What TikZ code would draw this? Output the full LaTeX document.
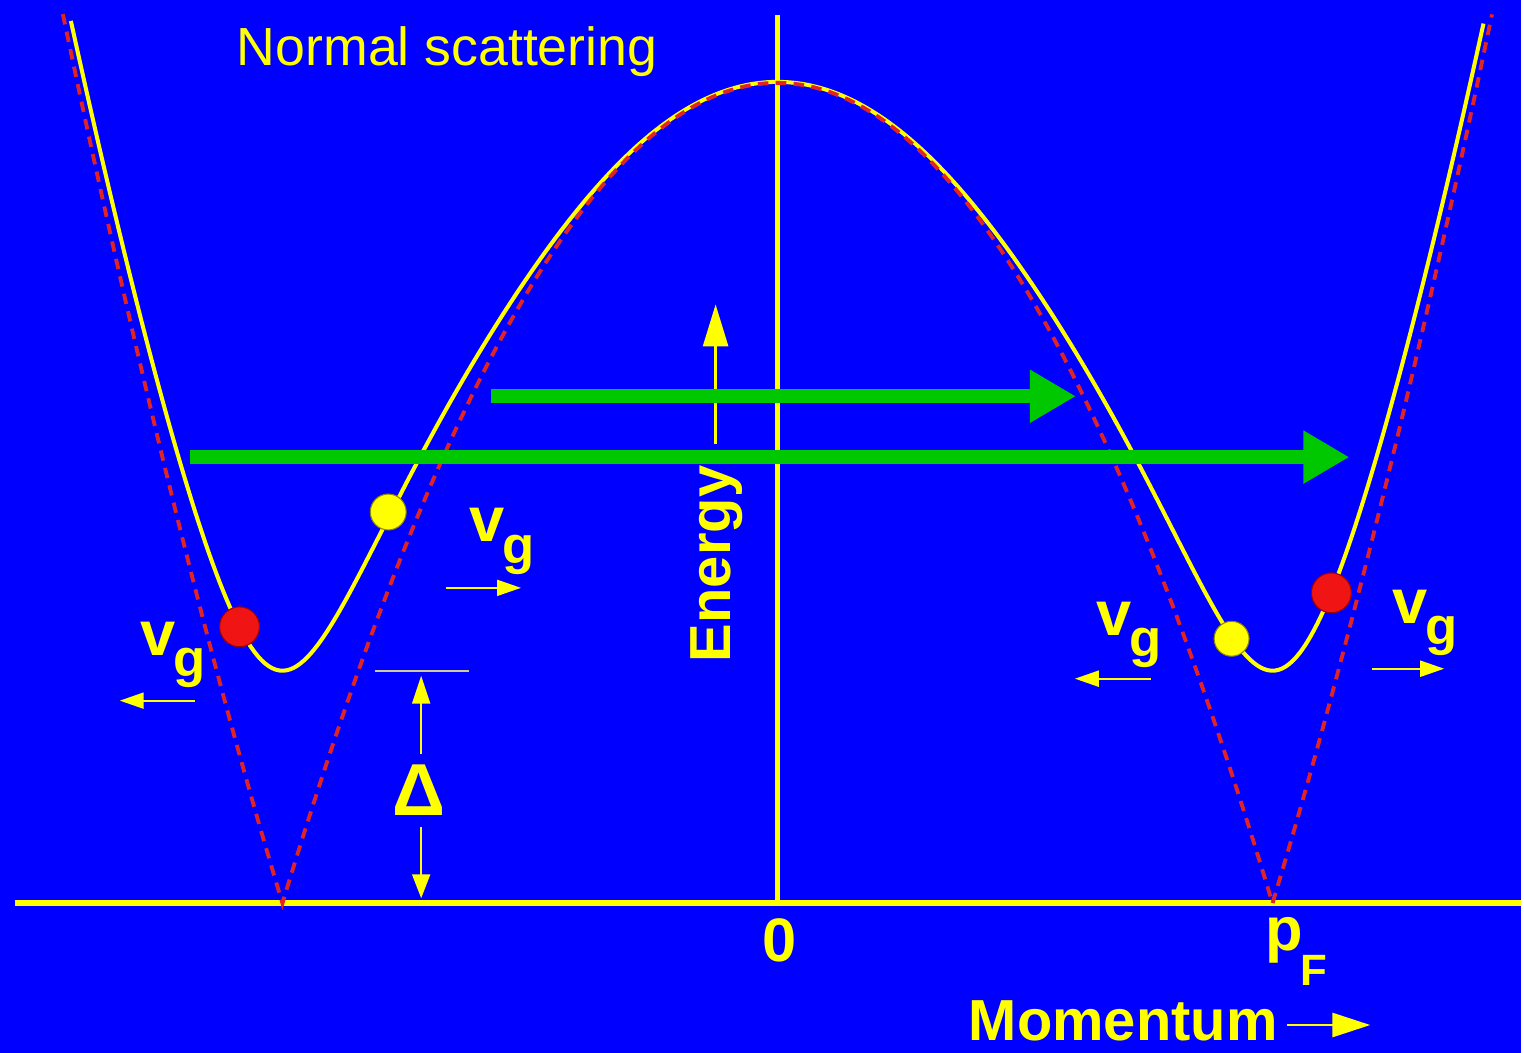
\documentclass[tikz,border=0pt]{standalone}
\usepackage{fontspec}
\setmainfont{Liberation Sans}
\usetikzlibrary{arrows.meta,positioning}
\definecolor{zeminMavi}{HTML}{0000FF}
\definecolor{parlakSari}{HTML}{FFFF00}
\definecolor{kesikKirmizi}{HTML}{E02424}
\definecolor{topKirmizi}{HTML}{F01414}
\definecolor{okYesil}{HTML}{00C800}
\definecolor{solukSari}{HTML}{CCCC90}
\newcommand{\vgrup}{v\kern-0.6pt\raisebox{-6pt}{\fontsize{15}{15}\selectfont g}}

\begin{document}
\begin{tikzpicture}[x=1cm,y=-1cm,
  declare function={xi(\p)=8.22*(1-\p*\p/24.6016);
    en(\p)=sqrt(xi(\p)*xi(\p)+5.4289*exp(-(max(xi(\p),0)^2/36)^2));},
  eksen/.style={parlakSari,line width=1.7pt},
  egri/.style={parlakSari,line width=1.15pt},
  kesik/.style={kesikKirmizi,line width=1.1pt,dash pattern=on 3pt off 2.1pt},
  kure/.style={circle,inner sep=0pt,minimum size=#1},
  yesilOk/.style={okYesil,line width=4pt,-{Triangle[length=0.46cm,width=0.5cm]}},
  kucukOk/.style={parlakSari,line width=0.6pt,-{Triangle[length=0.24cm,width=0.16cm]}},
  yazi/.style={text=parlakSari,font=\fontsize{16.5}{18}\selectfont\bfseries,inner sep=0pt},
  vg/.style={yazi,font=\fontsize{18}{18}\selectfont\bfseries,anchor=base west}]
\fill[zeminMavi] (0,0) rectangle (15.24,10.55);
\draw[eksen] (0.15,9.05) -- (15.24,9.05);
\draw[eksen,line width=1.4pt] (7.79,0.15) -- (7.79,9.05);
\draw[egri] plot[domain=-7.08:7.08,samples=401] ({7.79+\x},{9.05-en(\x)});
\draw[kesik] plot[domain=-7.16:-4.96,samples=60] ({7.79+\x},{9.05-abs(xi(\x))})
  -- plot[domain=-4.96:4.96,samples=200] ({7.79+\x},{9.05-abs(xi(\x))})
  -- plot[domain=4.96:7.16,samples=60] ({7.79+\x},{9.05-abs(xi(\x))});
\node[kure=0.40cm,fill=topKirmizi,draw=red!60!black,line width=0.3pt] (k1) at (2.40,6.28) {};
\node[kure=0.36cm,fill=parlakSari,draw=olive,line width=0.3pt] (s1) at (3.89,5.13) {};
\node[kure=0.35cm,fill=parlakSari,draw=olive,line width=0.3pt] (s2) at (12.34,6.40) {};
\node[kure=0.40cm,fill=topKirmizi,draw=red!60!black,line width=0.3pt] (k2) at (13.34,5.94) {};
\node[yazi,font=\fontsize{15.3}{18}\selectfont] (baslik) at (4.48,0.52) {Normal scattering};
\node[yazi,rotate=90] (enerji) at (7.18,5.65) {Energy};
\coordinate (e1) at (7.17,4.45);
\coordinate (e2) at (7.17,3.05);
\draw[parlakSari,line width=0.8pt,-{Triangle[length=0.42cm,width=0.25cm]}] (e1) -- (e2);
\node[vg] (v1) at (1.40,6.57) {\vgrup};
\node[vg] (v2) at (4.70,5.43) {\vgrup};
\node[vg] (v3) at (10.98,6.37) {\vgrup};
\node[vg] (v4) at (13.95,6.25) {\vgrup};
\coordinate (a1) at (1.95,7.02);   \coordinate (b1) at (1.20,7.02);
\coordinate (a2) at (4.47,5.89);   \coordinate (b2) at (5.22,5.89);
\coordinate (a3) at (11.53,6.80);  \coordinate (b3) at (10.77,6.80);
\coordinate (a4) at (13.75,6.70);  \coordinate (b4) at (14.47,6.70);
\foreach \i in {1,2,3,4} \draw[kucukOk] (a\i) -- (b\i);
\coordinate (g1) at (3.76,6.72);
\coordinate (g2) at (4.70,6.72);
\draw[solukSari,line width=0.6pt] (g1) -- (g2);
\coordinate (dU) at (4.22,6.77);
\coordinate (dA) at (4.22,9.00);
\draw[parlakSari,line width=0.6pt,{Triangle[length=0.28cm,width=0.18cm]}-{Triangle[length=0.24cm,width=0.18cm]}] (dU) -- (dA);
\node[yazi,fill=zeminMavi,font=\fontsize{21}{21}\selectfont\bfseries,minimum height=0.74cm] (delta) at (4.20,7.92) {Δ};
\node[yazi,font=\fontsize{17.5}{18}\selectfont\bfseries] (sifir) at (7.81,9.42) {0};
\node[yazi,anchor=base west,font=\fontsize{17.5}{18}\selectfont\bfseries] (pF) at (12.67,9.52) {p\kern-0.5pt\raisebox{-10pt}{\fontsize{12.5}{13}\selectfont F}};
\node[yazi,anchor=base west] (momentum) at (9.70,10.43) {Momentum};
\coordinate (m1) at (12.90,10.27);
\coordinate (m2) at (13.73,10.27);
\draw[parlakSari,line width=0.8pt,-{Triangle[length=0.38cm,width=0.24cm]}] (m1) -- (m2);
\coordinate (y1) at (1.90,4.58);
\coordinate (y2) at (13.52,4.58);
\coordinate (y3) at (4.92,3.97);
\coordinate (y4) at (10.78,3.97);
\draw[yesilOk] (y3) -- (y4);
\draw[yesilOk] (y1) -- (y2);
\end{tikzpicture}
\end{document}
